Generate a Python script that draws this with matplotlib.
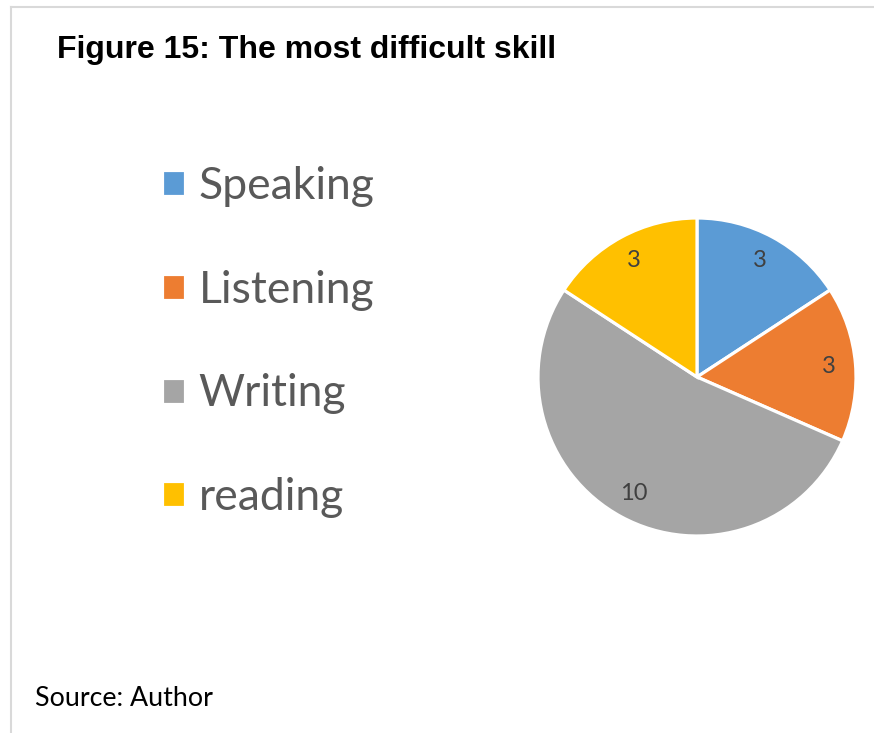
import matplotlib
matplotlib.use("Agg")
import matplotlib.pyplot as plt
from matplotlib.lines import Line2D

categories = ["Speaking", "Listening", "Writing", "reading"]
values = [3, 3, 10, 3]
colors = ["#5B9BD5", "#ED7D31", "#A5A5A5", "#FFC000"]
title = "Figure 15: The most difficult skill"
source = "Source: Author"

W, H = 874, 733
fig = plt.figure(figsize=(W / 100, H / 100), dpi=100)

# frame lines (top and left)
fig.add_artist(Line2D([11 / W, 1.0], [1 - 7 / H, 1 - 7 / H], color="#D9D9D9", lw=1.5))
fig.add_artist(Line2D([11 / W, 11 / W], [0, 1 - 7 / H], color="#D9D9D9", lw=1.5))

# pie axes: center (697,377) radius 159 px
cx, cy, r = 697, 377, 159
ax = fig.add_axes([(cx - r) / W, 1 - (cy + r) / H, 2 * r / W, 2 * r / H])
wedges, texts, autotexts = ax.pie(
    values, colors=colors, startangle=90, counterclock=False,
    autopct=lambda p: f"{p * sum(values) / 100:.0f}", pctdistance=0.83,
    wedgeprops=dict(edgecolor="white", linewidth=2.3),
    textprops=dict(fontsize=17, color="#404040", family="Lato"),
)
ax.set_xlim(-1, 1)
ax.set_ylim(-1, 1)
ax.set_aspect("equal")

fig.text(57 / W, 1 - 58 / H, title, fontsize=23, fontweight="bold",
         family="Liberation Sans", color="black", ha="left", va="baseline")

fig.text(35 / W, 1 - 706 / H, source, fontsize=19.3, family="Lato",
         color="black", ha="left", va="baseline")

leg = fig.legend(wedges, categories, loc="upper left",
                 bbox_to_anchor=(162 / W, 1 - 166 / H), frameon=False,
                 prop=dict(family="Lato", size=32), labelcolor="#595959",
                 handlelength=0.52, handleheight=0.52, handletextpad=0.3,
                 labelspacing=1.41, borderpad=0, borderaxespad=0)

fig.savefig("out.png", dpi=100)
